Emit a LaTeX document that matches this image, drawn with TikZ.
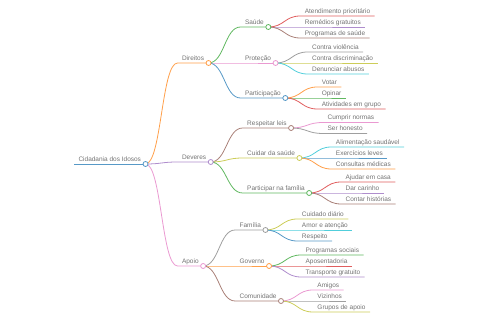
\documentclass[tikz,border=0pt]{standalone}
\usepackage{fontspec}
\setmainfont{Liberation Sans}
\usetikzlibrary{calc}

% category palette
\definecolor{c0}{HTML}{1F77B4}
\definecolor{c1}{HTML}{FF7F0E}
\definecolor{c2}{HTML}{2CA02C}
\definecolor{c3}{HTML}{D62728}
\definecolor{c4}{HTML}{9467BD}
\definecolor{c5}{HTML}{8C564B}
\definecolor{c6}{HTML}{E377C2}
\definecolor{c7}{HTML}{7F7F7F}
\definecolor{c8}{HTML}{BCBD22}
\definecolor{c9}{HTML}{17BECF}

\begin{document}
\begin{tikzpicture}[x=1pt,y=-1pt,
    topic/.style={anchor=south west, inner xsep=4.3pt, inner ysep=1pt,
      text height=5pt, text depth=1.5pt, text=black!55,
      font=\fontsize{6.5}{8}\selectfont},
    wire/.style={draw=#1!75, line width=0.8pt},
    knot/.style={draw=#1!75, fill=white, line width=0.8pt},
    branch/.style={to path={let \p1=(\tikztostart), \p2=(\tikztotarget) in
      .. controls ({(\x1+\x2)/2},\y1) and ({(\x1+\x2)/2},\y2) .. (\tikztotarget)}}]
        % --- 1. Core Parameters ---
        \def\gap{32}
        \useasboundingbox (0,0) rectangle (480,320);

        % --- 2. Root ---
        \node[topic] (root) at (74,164) {Cidadania dos Idosos};
        \draw[wire=c0] (root.south west) -- (root.south east);

        % --- 3. First level ---
        \foreach \nm/\dy/\col/\txt in {dir/-101/c1/Direitos, dev/-2/c4/Deveres, apo/102/c6/Apoio}{
            \node[topic] (\nm) at ($(root.south east)+(\gap,\dy)$) {\txt};
            \draw[wire=\col] (root.south east) to[branch] (\nm.south west) -- (\nm.south east);
        }

        % --- 4. Second level ---
        \foreach \pa/\nm/\dy/\col/\txt in {
            dir/sau/-36/c2/Saúde, dir/pro/0/c6/Proteção, dir/par/35/c0/Participação,
            dev/res/-34/c5/Respeitar leis, dev/cui/-4/c8/Cuidar da saúde, dev/pfa/31/c2/Participar na família,
            apo/fam/-36/c7/Família, apo/gov/0/c1/Governo, apo/com/35/c5/Comunidade}{
            \node[topic] (\nm) at ($(\pa.south east)+(\gap,\dy)$) {\txt};
            \draw[wire=\col] (\pa.south east) to[branch] (\nm.south west) -- (\nm.south east);
        }

        % --- 5. Leaves ---
        \foreach \pa/\nm/\dy/\col/\txt in {
            sau/atend/-11/c3/Atendimento prioritário, sau/remed/0/c4/Remédios gratuitos, sau/progs/11/c5/Programas de saúde,
            pro/viol/-11/c7/Contra violência, pro/discr/0/c8/Contra discriminação, pro/denun/11/c9/Denunciar abusos,
            par/votar/-11/c1/Votar, par/opin/0/c2/Opinar, par/ativ/11/c3/Atividades em grupo,
            res/cumpr/-5.5/c6/Cumprir normas, res/hon/5.5/c7/Ser honesto,
            cui/alim/-11/c9/Alimentação saudável, cui/exer/0/c0/Exercícios leves, cui/cons/11/c1/Consultas médicas,
            pfa/ajud/-11/c3/Ajudar em casa, pfa/car/0/c4/Dar carinho, pfa/hist/11/c5/Contar histórias,
            fam/cuid/-11/c8/Cuidado diário, fam/amor/0/c9/Amor e atenção, fam/resp/11/c0/Respeito,
            gov/psoc/-11/c2/Programas sociais, gov/apos/0/c3/Aposentadoria, gov/transp/11/c4/Transporte gratuito,
            com/amig/-11/c6/Amigos, com/viz/0/c7/Vizinhos, com/grup/11/c8/Grupos de apoio}{
            \node[topic] (\nm) at ($(\pa.south east)+(\gap,\dy)$) {\txt};
            \draw[wire=\col] (\pa.south east) to[branch] (\nm.south west) -- (\nm.south east);
        }

        % --- 6. Joints ---
        \foreach \nm/\col in {root/c0, dir/c1, dev/c4, apo/c6, sau/c2, pro/c6, par/c0,
            res/c5, cui/c8, pfa/c2, fam/c7, gov/c1, com/c5}
            \filldraw[knot=\col] (\nm.south east) circle (2.5);

\end{tikzpicture}
\end{document}
